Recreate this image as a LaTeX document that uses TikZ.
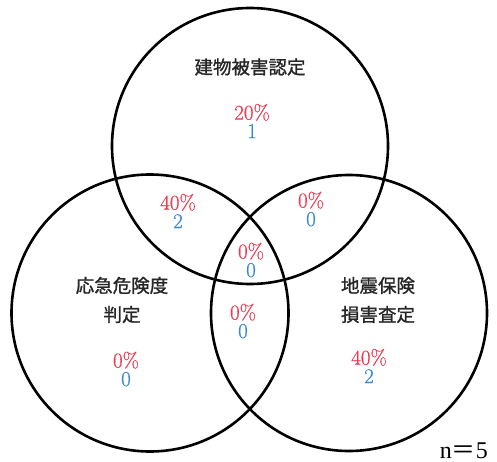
\documentclass[tikz,border=0pt]{standalone}
\usepackage{fontspec}
\newfontfamily\cjk[FakeBold=1.2]{Noto Sans CJK JP}
\newfontfamily\cjkplain{Noto Sans CJK JP}
\newfontfamily\tms{Liberation Serif}
\newfontfamily\numf[FakeBold=0.7]{Latin Modern Roman}
\definecolor{pred}{RGB}{238,58,80}
\definecolor{pblue}{RGB}{55,138,210}
\tikzset{
  ring/.style={draw=black, line width=2.6pt},
  lab/.style={font=\cjk\fontsize{18.5}{29}\selectfont, align=center, inner sep=0pt, text=black!85},
  val/.style={font=\numf\fontsize{21}{18.5}\selectfont, align=center, inner sep=0pt},
}
\newcommand{\vv}[2]{{\color{pred}#1\%}\\{\color{pblue}#2}}
\begin{document}
\begin{tikzpicture}[x=1pt,y=-1pt]
\useasboundingbox (0,0) rectangle (497,462);
\fill[white] (0,0) rectangle (497,462);
\draw[ring] (250,146) circle[radius=138];
\draw[ring] (150,313) circle[radius=138.5];
\draw[ring] (349,313) circle[radius=138];

\node[lab] (t1) at (250,67) {建物被害認定};
\node[val] (v1) at (252,121) {\vv{20}{1}};
\node[val] (v12) at (178,211) {\vv{40}{2}};
\node[val] (v13) at (311,209) {\vv{0}{0}};
\node[val] (v123) at (251,260) {\vv{0}{0}};
\node[val] (v23) at (243,321) {\vv{0}{0}};

\node[lab] (t2) at (122,300) {応急危険度\\判定};
\node[val] (v2) at (126,369) {\vv{0}{0}};

\node[lab] (t3) at (378,300) {地震保険\\損害査定};
\node[val] (v3) at (369,366) {\vv{40}{2}};

\node[anchor=base east, inner sep=0pt, font=\fontsize{24}{24}\selectfont] (nn) at (488,458) {\tms n{\cjkplain ＝}5};
\end{tikzpicture}
\end{document}
